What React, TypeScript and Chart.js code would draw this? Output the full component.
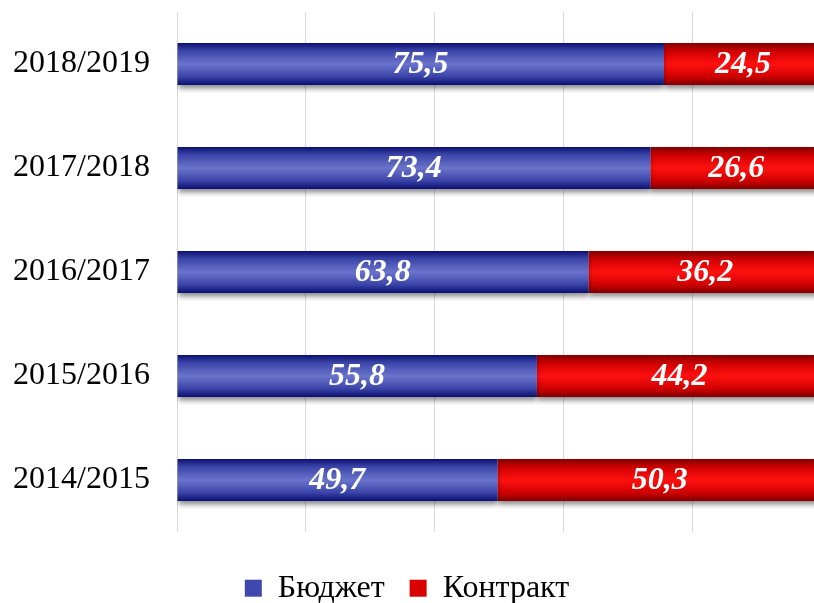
import React, { useEffect, useRef } from "react";
import { Chart, registerables } from "chart.js";

Chart.register(...registerables);

const categories = ["2018/2019", "2017/2018", "2016/2017", "2015/2016", "2014/2015"];
const budget = [75.5, 73.4, 63.8, 55.8, 49.7];
const contract = [24.5, 26.6, 36.2, 44.2, 50.3];
const seriesNames = ["Бюджет", "Контракт"];

const SERIF = "'Liberation Serif', 'Times New Roman', serif";
const BAR_FRACTION = 0.404;

function barGradient(chart: any, index: number, kind: "blue" | "red") {
  const y = chart.scales.y;
  const area = chart.chartArea;
  if (!y || !area) return kind === "blue" ? "#4a52b8" : "#e00000";
  const c = y.getPixelForValue(index);
  const band = (area.bottom - area.top) / categories.length;
  const half = (band * BAR_FRACTION) / 2;
  const g = chart.ctx.createLinearGradient(0, c - half, 0, c + half);
  if (kind === "blue") {
    g.addColorStop(0, "#0c0f70");
    g.addColorStop(0.18, "#3a44a8");
    g.addColorStop(0.5, "#6a74cc");
    g.addColorStop(0.8, "#3a44a8");
    g.addColorStop(1, "#0c0f70");
  } else {
    g.addColorStop(0, "#800000");
    g.addColorStop(0.2, "#d00000");
    g.addColorStop(0.5, "#ff1010");
    g.addColorStop(0.8, "#d00000");
    g.addColorStop(1, "#800000");
  }
  return g;
}

function legendGradient(ctx: any, kind: "blue" | "red") {
  return kind === "blue" ? "#3f48ac" : "#d80000";
}

const shadowPlugin = {
  id: "barShadow",
  beforeDatasetsDraw(chart: any) {
    const ctx = chart.ctx;
    ctx.save();
    ctx.shadowColor = "rgba(0,0,0,0.45)";
    ctx.shadowBlur = 5;
    ctx.shadowOffsetY = 4;
  },
  afterDatasetsDraw(chart: any) {
    chart.ctx.restore();
  },
};

const legendHeightPlugin = {
  id: "legendHeight",
  beforeInit(chart: any) {
    const legend = chart.legend;
    if (!legend) return;
    const origFit = legend.fit;
    legend.fit = function fit() {
      origFit.bind(legend)();
      this.height = 71;
    };
  },
};

const labelPlugin = {
  id: "centerLabels",
  afterDatasetsDraw(chart: any) {
    const ctx = chart.ctx;
    const x = chart.scales.x;
    ctx.save();
    ctx.fillStyle = "#ffffff";
    ctx.font = `italic bold 32px ${SERIF}`;
    ctx.textAlign = "center";
    ctx.textBaseline = "middle";
    chart.data.datasets.forEach((ds: any, di: number) => {
      const meta = chart.getDatasetMeta(di);
      meta.data.forEach((el: any, i: number) => {
        let start = 0;
        for (let k = 0; k < di; k++) start += chart.data.datasets[k].data[i];
        const v = ds.data[i];
        const cx = (x.getPixelForValue(start) + x.getPixelForValue(start + v)) / 2;
        ctx.fillText(v.toFixed(1).replace(".", ","), cx, el.y + 1);
      });
    });
    ctx.restore();
  },
};

export default function App() {
  const ref = useRef<HTMLCanvasElement | null>(null);

  useEffect(() => {
    document.body.style.margin = "0";
    const canvas = ref.current;
    if (!canvas) return;
    const chart = new Chart(canvas, {
      type: "bar",
      data: {
        labels: categories,
        datasets: [
          {
            label: seriesNames[0],
            data: budget,
            backgroundColor: (c: any) => barGradient(c.chart, c.dataIndex, "blue"),
            borderWidth: 0,
            categoryPercentage: 0.808,
            barPercentage: 0.5,
          },
          {
            label: seriesNames[1],
            data: contract,
            backgroundColor: (c: any) => barGradient(c.chart, c.dataIndex, "red"),
            borderWidth: 0,
            categoryPercentage: 0.808,
            barPercentage: 0.5,
          },
        ],
      },
      options: {
        indexAxis: "y",
        responsive: false,
        animation: false,
        layout: { padding: { top: 12, left: 0, right: 0, bottom: 0 } },
        scales: {
          x: {
            stacked: true,
            min: 0,
            max: 98.76,
            ticks: { display: false, stepSize: 20 },
            afterBuildTicks: (s: any) => {
              s.ticks = s.ticks.filter((t: any) => Math.abs(t.value % 20) < 1e-6);
            },
            grid: { color: "#d9d9d9", lineWidth: 1, drawTicks: false },
            border: { display: false },
            afterFit: (s: any) => {
              s.height = 0;
              s.paddingLeft = 0;
              s.paddingRight = 0;
            },
          },
          y: {
            stacked: true,
            grid: { display: false, drawTicks: false },
            border: { display: false },
            ticks: {
              color: "#000000",
              padding: 27,
              font: { family: SERIF, size: 32 },
            },
            afterFit: (s: any) => {
              s.width = 177;
              s.paddingTop = 0;
              s.paddingBottom = 0;
            },
          },
        },
        plugins: {
          legend: {
            position: "bottom",
            title: { display: true, text: " ", font: { size: 1 }, padding: { top: 14, bottom: 0 } },
            labels: {
              color: "#000000",
              font: { family: SERIF, size: 32 },
              boxWidth: 17,
              boxHeight: 17,
              padding: 25,
              generateLabels: (chart: any) =>
                seriesNames.map((name, i) => ({
                  text: name,
                  fillStyle: legendGradient(chart.ctx, i === 0 ? "blue" : "red"),
                  strokeStyle: "transparent",
                  lineWidth: 0,
                  datasetIndex: i,
                  hidden: false,
                  fontColor: "#000000",
                })),
            },
          },
          tooltip: { enabled: false },
        },
      },
      plugins: [legendHeightPlugin, shadowPlugin, labelPlugin],
    } as any);
    return () => chart.destroy();
  }, []);

  return (
    <div style={{ width: 814, height: 603 }}>
      <canvas ref={ref} width={814} height={603} style={{ display: "block" }} />
    </div>
  );
}
